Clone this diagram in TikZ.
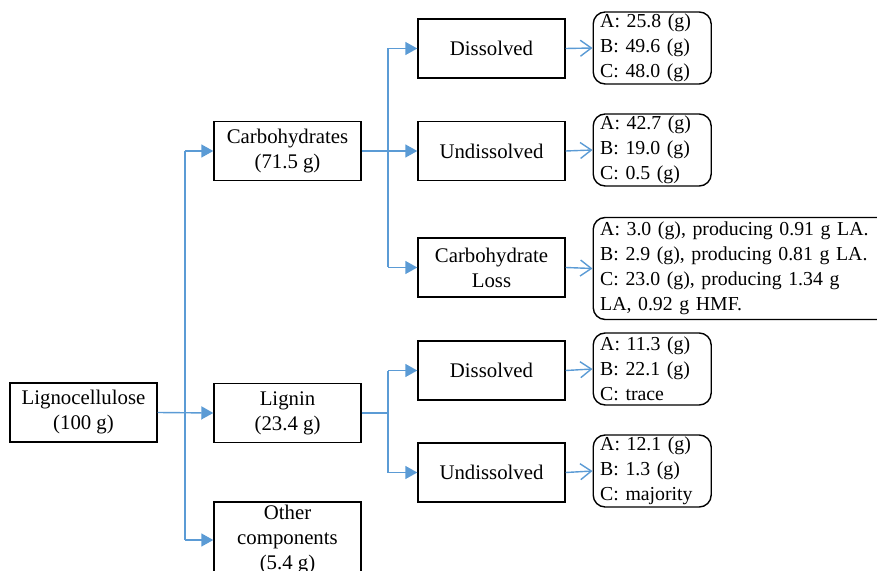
\documentclass[tikz,border=0pt]{standalone}
\usepackage{fontspec}
\setmainfont{Liberation Serif}
\usetikzlibrary{arrows.meta}
\definecolor{flowblue}{RGB}{91,155,213}

\begin{document}
\begin{tikzpicture}[x=0.5pt,y=-0.5pt,
    stepbox/.style={draw,line width=0.7pt,minimum width=73.5pt,minimum height=29.5pt,inner sep=1pt,align=center,font=\fontsize{10.4}{12.5}\selectfont},
    resultbox/.style={draw,line width=0.7pt,rounded corners=6pt,anchor=west,minimum height=36pt,text width=52pt,inner xsep=3.5pt,inner ysep=1pt,align=left,font=\fontsize{9.9}{12.5}\selectfont},
    link/.style={flowblue,line width=0.7pt},
    tree/.style={link,-{Triangle[length=6pt,width=6.5pt]}},
    yield/.style={link,-{Straight Barb[length=5.5pt,width=8pt]}}]
        \useasboundingbox (0,0) rectangle (877,571);
        \clip (0,0) rectangle (877,571);
        \newcommand{\colone}{83.5}
        \newcommand{\coltwo}{287.5}
        \newcommand{\colthree}{491.5}
        \newcommand{\colfour}{592.5}
        % first level
        \node[stepbox] (ligno) at (\colone,412.5) {Lignocellulose\\(100 g)};
        \node[stepbox] (carbo) at (\coltwo,151) {Carbohydrates\\(71.5 g)};
        \node[stepbox] (lignin) at (\coltwo,413) {Lignin\\(23.4 g)};
        \node[stepbox,minimum height=38pt] (other) at (\coltwo,540) {Other\\components\\(5.4 g)};
        % second level
        \node[stepbox] (disA) at (\colthree,48.5) {Dissolved};
        \node[stepbox] (undisA) at (\colthree,151) {Undissolved};
        \node[stepbox] (loss) at (\colthree,267.5) {Carbohydrate\\Loss};
        \node[stepbox] (disB) at (\colthree,370.5) {Dissolved};
        \node[stepbox] (undisB) at (\colthree,472.5) {Undissolved};
        % results
        \node[resultbox] (resA) at (\colfour,48) {A: 25.8 (g)\\B: 49.6 (g)\\C: 48.0 (g)};
        \node[resultbox] (resB) at (\colfour,150) {A: 42.7 (g)\\B: 19.0 (g)\\C: 0.5 (g)};
        \node[resultbox,text width=142pt,minimum height=51pt] (resC) at (\colfour,268.5) {A: 3.0 (g), producing 0.91 g LA.\\B: 2.9 (g), producing 0.81 g LA.\\C: 23.0 (g), producing 1.34 g\\LA, 0.92 g HMF.};
        \node[resultbox] (resD) at (\colfour,369) {A: 11.3 (g)\\B: 22.1 (g)\\C: trace};
        \node[resultbox] (resE) at (\colfour,471) {A: 12.1 (g)\\B: 1.3 (g)\\C: majority};
        % connectors
        \coordinate (forkA) at (185,412.5);
        \coordinate (forkB) at (388,151);
        \coordinate (forkC) at (388,413);
        \draw[link] (forkA |- carbo) -- (forkA |- other);
        \draw[tree] (ligno.east) -- (lignin.west);
        \draw[tree] (forkA |- carbo) -- (carbo.west);
        \draw[tree] (forkA |- other) -- (other.west);
        \draw[link] (carbo.east) -- (forkB);
        \draw[link] (forkB |- disA) -- (forkB |- loss);
        \draw[tree] (forkB |- disA) -- (disA.west);
        \draw[tree] (forkB) -- (undisA.west);
        \draw[tree] (forkB |- loss) -- (loss.west);
        \draw[link] (lignin.east) -- (forkC);
        \draw[link] (forkC |- disB) -- (forkC |- undisB);
        \draw[tree] (forkC |- disB) -- (disB.west);
        \draw[tree] (forkC |- undisB) -- (undisB.west);
        \draw[yield] (disA.east) -- (resA.west);
        \draw[yield] (undisA.east) -- (resB.west);
        \draw[yield] (loss.east) -- (resC.west);
        \draw[yield] (disB.east) -- (resD.west);
        \draw[yield] (undisB.east) -- (resE.west);
\end{tikzpicture}
\end{document}
